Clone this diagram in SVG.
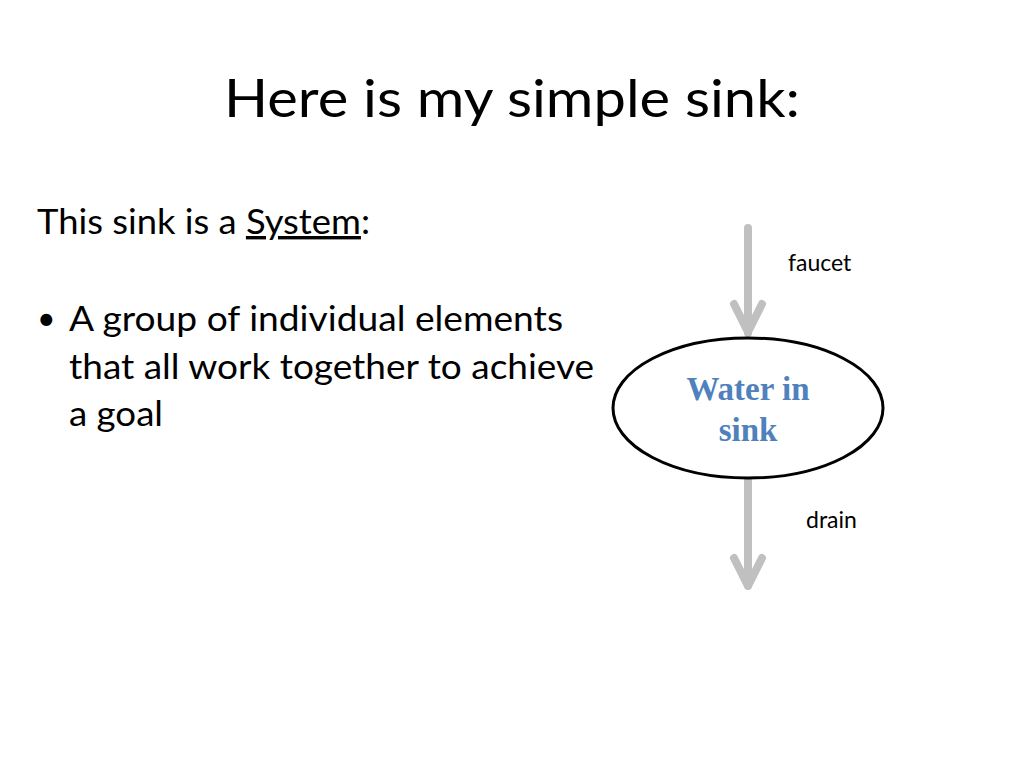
<svg xmlns="http://www.w3.org/2000/svg" width="1024" height="768" viewBox="0 0 1024 768">
<style>
.t{font-family:Lato,"Open Sans",sans-serif;fill:#000}
.arr{stroke:#c0c0c0;stroke-width:8;fill:none;stroke-linecap:round;stroke-linejoin:round}
</style>
<rect width="1024" height="768" fill="#fff"/>
<text class="t" x="224" y="117" font-size="52" textLength="576" lengthAdjust="spacingAndGlyphs">Here is my simple sink:</text>
<text class="t" x="37" y="234" font-size="34" textLength="333" lengthAdjust="spacingAndGlyphs">This sink is a <tspan text-decoration="underline">System</tspan>:</text>
<text class="t" x="37" y="330" font-size="32">•</text>
<text class="t" x="69" y="331" font-size="34" textLength="494" lengthAdjust="spacingAndGlyphs">A group of individual elements</text>
<text class="t" x="69" y="379" font-size="34" textLength="525" lengthAdjust="spacingAndGlyphs">that all work together to achieve</text>
<text class="t" x="69" y="426" font-size="34" textLength="94" lengthAdjust="spacingAndGlyphs">a goal</text>
<g id="connectors">
<path class="arr" d="M748 228V333M734 304L748 332L762 304"/>
<path class="arr" d="M748 479V586M734 558L748 586L762 558"/>
</g>
<g id="faucet"><text class="t" x="788" y="271" font-size="23">faucet</text></g>
<g id="drain"><text class="t" x="806" y="528" font-size="23">drain</text></g>
<g id="water">
<ellipse cx="748" cy="408" rx="135" ry="70" fill="#fff" stroke="#000" stroke-width="3"/>
<text x="748" y="400" font-size="33" font-weight="bold" text-anchor="middle" font-family="Liberation Serif,serif" fill="#4f81bd">Water in</text>
<text x="748" y="441" font-size="33" font-weight="bold" text-anchor="middle" font-family="Liberation Serif,serif" fill="#4f81bd">sink</text>
</g>
</svg>
